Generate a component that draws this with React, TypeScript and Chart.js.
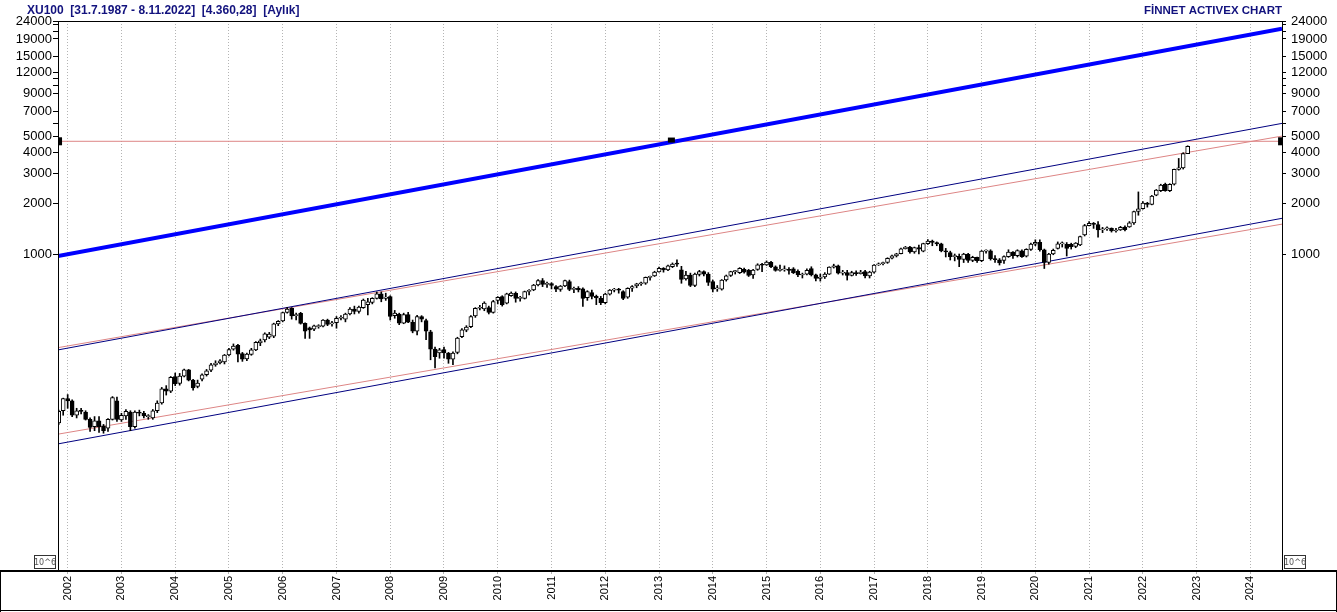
import React, { useEffect, useRef } from "react";
import { Chart, registerables } from "chart.js";

Chart.register(...registerables);

// ---------------- data (monthly XU100 candles, Nov 2001 .. Nov 2022) ----------------
const firstMonth = { year: 2001, month: 11 };

const open = [
  99, 117,
  138, 134, 110, 117, 115, 104, 94, 102, 95, 92, 104, 134,
  103, 109, 115, 94, 114, 113, 108, 106, 117, 130, 158, 153,
  187, 170, 188, 205, 178, 163, 180, 192, 204, 219, 225, 228,
  251, 272, 286, 256, 238, 253, 269, 296, 308, 320, 325, 384,
  400, 450, 476, 430, 444, 387, 364, 357, 370, 372, 405, 384,
  391, 415, 410, 440, 470, 455, 480, 500, 515, 545, 579, 545,
  558, 430, 440, 388, 436, 393, 348, 425, 402, 345, 272, 258,
  270, 258, 237, 260, 323, 352, 370, 428, 476, 472, 480, 450,
  530, 558, 510, 565, 584, 545, 545, 600, 611, 654, 695, 660,
  668, 640, 615, 645, 685, 615, 625, 620, 550, 589, 560, 545,
  514, 577, 610, 617, 597, 553, 626, 645, 665, 670, 727, 741,
  782, 822, 803, 840, 875, 805, 710, 750, 650, 755, 786, 760,
  685, 620, 617, 701, 745, 786, 774, 811, 800, 750, 811, 860,
  860, 893, 840, 800, 805, 808, 815, 790, 750, 760, 820, 752,
  715, 730, 760, 835, 850, 770, 775, 745, 775, 765, 786, 740,
  781, 860, 875, 890, 945, 975, 1004, 1075, 1100, 1029, 1093, 1040,
  1153, 1195, 1170, 1150, 1043, 1020, 965, 970, 929, 995, 915, 954,
  913, 1040, 1043, 940, 925, 915, 965, 1026, 976, 1045, 970, 1066,
  1144, 1175, 1060, 890, 1000, 1081, 1150, 1140, 1140, 1110, 1131, 1297,
  1476, 1520, 1495, 1390, 1410, 1420, 1370, 1390, 1445, 1450, 1530, 1790,
  1858, 2010, 1975, 2240, 2380, 2600, 2380, 2600, 3186, 3250, 3950,
];

const high = [
  118, 139,
  146, 136, 121, 121, 117, 106, 108, 108, 97, 105, 142, 141,
  113, 119, 117, 117, 118, 116, 111, 119, 134, 161, 165, 187,
  196, 195, 207, 206, 180, 178, 194, 206, 224, 232, 236, 253,
  275, 292, 290, 260, 258, 275, 302, 312, 340, 342, 388, 402,
  452, 482, 480, 445, 450, 390, 368, 378, 380, 408, 410, 398,
  425, 430, 445, 480, 490, 490, 540, 545, 550, 595, 595, 585,
  565, 462, 445, 445, 450, 405, 432, 430, 410, 352, 280, 275,
  280, 260, 262, 320, 360, 375, 430, 480, 495, 520, 490, 530,
  558, 565, 585, 595, 595, 560, 602, 615, 660, 705, 715, 680,
  675, 650, 650, 700, 700, 635, 640, 630, 605, 610, 570, 560,
  585, 615, 625, 625, 605, 630, 650, 670, 680, 730, 740, 790,
  835, 830, 860, 885, 925, 845, 790, 770, 770, 800, 795, 775,
  700, 650, 705, 750, 790, 800, 830, 825, 810, 810, 875, 880,
  910, 905, 850, 860, 850, 830, 830, 805, 770, 815, 840, 760,
  760, 775, 840, 870, 860, 800, 800, 790, 795, 800, 800, 790,
  865, 885, 895, 950, 985, 1010, 1085, 1110, 1110, 1100, 1130, 1160,
  1220, 1210, 1180, 1160, 1080, 1040, 1000, 1000, 1010, 1010, 970, 960,
  1050, 1060, 1060, 980, 940, 975, 1060, 1035, 1060, 1060, 1075, 1160,
  1215, 1215, 1070, 1010, 1070, 1180, 1180, 1170, 1160, 1170, 1280, 1500,
  1560, 1540, 1560, 1440, 1450, 1430, 1420, 1460, 1470, 1560, 1800, 2340,
  2050, 2030, 2230, 2420, 2600, 2640, 2620, 3200, 3700, 4000, 4400,
];

const low = [
  97, 110,
  121, 108, 106, 112, 103, 88, 89, 87, 86, 88, 103, 101,
  101, 104, 89, 92, 109, 106, 104, 104, 114, 128, 145, 150,
  165, 166, 186, 176, 155, 160, 176, 188, 200, 215, 222, 222,
  248, 268, 228, 230, 232, 250, 266, 285, 300, 314, 318, 375,
  395, 445, 410, 405, 383, 315, 315, 350, 362, 368, 375, 372,
  362, 405, 395, 435, 440, 445, 475, 434, 505, 540, 520, 530,
  405, 415, 380, 385, 390, 340, 330, 395, 310, 235, 210, 240,
  240, 224, 220, 255, 318, 345, 365, 420, 465, 460, 440, 445,
  505, 490, 505, 560, 517, 525, 540, 571, 605, 645, 640, 634,
  620, 597, 600, 640, 605, 590, 595, 488, 530, 540, 500, 500,
  505, 570, 595, 585, 535, 545, 600, 630, 650, 660, 700, 735,
  780, 780, 795, 830, 845, 670, 700, 640, 640, 740, 740, 650,
  595, 600, 610, 690, 735, 760, 765, 770, 735, 717, 800, 786,
  855, 830, 790, 790, 790, 760, 765, 734, 720, 750, 740, 691,
  690, 715, 755, 825, 760, 750, 700, 740, 745, 760, 720, 720,
  770, 855, 860, 880, 935, 960, 1000, 1070, 1010, 1010, 1000, 1030,
  1140, 1120, 1120, 1030, 960, 921, 910, 841, 890, 890, 900, 890,
  900, 1010, 920, 890, 860, 880, 955, 940, 960, 955, 960, 1050,
  1120, 1040, 820, 870, 990, 1070, 1100, 973, 1070, 1090, 1120, 1280,
  1470, 1420, 1260, 1340, 1380, 1350, 1350, 1380, 1370, 1440, 1500, 1700,
  1850, 1900, 1960, 2220, 2350, 2360, 2350, 2570, 3150, 3200, 3950,
];

const close = [
  116, 138,
  134, 110, 117, 116, 104, 93, 102, 94, 89, 104, 140, 104,
  110, 116, 94, 115, 113, 109, 108.5, 117, 130, 158, 153, 185,
  169, 188, 205, 178, 160, 171, 191, 202, 219, 225, 232, 251,
  270, 284, 254, 237, 254, 269, 298, 305, 335, 334, 384, 398,
  448, 470, 428, 432, 387, 348, 354, 374, 372, 405, 382, 390,
  415, 420, 440, 471, 455, 484, 533, 520, 545, 579, 540, 555,
  425, 445, 388, 436, 393, 348, 425, 410, 348, 272, 245, 269,
  258, 237, 258, 316, 354, 368, 425, 476, 482, 510, 450, 521,
  552, 500, 579, 585, 545, 548, 597, 605, 654, 695, 660, 668,
  650, 617, 645, 694, 615, 625, 612, 545, 597, 560, 548, 514,
  577, 611, 617, 610, 545, 626, 640, 665, 675, 727, 735, 782,
  822, 803, 850, 872, 870, 706, 750, 650, 761, 786, 760, 678,
  619, 630, 701, 741, 786, 790, 822, 780, 745, 803, 862, 857,
  895, 840, 800, 805, 808, 800, 775, 750, 755, 800, 752, 717,
  730, 760, 835, 850, 770, 772, 745, 775, 765, 780, 740, 781,
  860, 875, 889, 943, 975, 1004, 1075, 1100, 1029, 1093, 1068, 1153,
  1195, 1170, 1149, 1043, 1029, 965, 970, 929, 999, 915, 954, 913,
  1040, 1043, 938, 925, 885, 965, 1026, 976, 1048, 965, 1066, 1144,
  1175, 1060, 890, 1000, 1050, 1150, 1160, 1080, 1105, 1160, 1268, 1476,
  1520, 1500, 1390, 1410, 1420, 1370, 1390, 1440, 1395, 1530, 1790, 1858,
  2010, 1975, 2210, 2400, 2570, 2380, 2600, 3186, 3250, 3950, 4360.28,
];

const yearTicks = [
  2002, 2003, 2004, 2005, 2006, 2007, 2008, 2009, 2010, 2011, 2012, 2013,
  2014, 2015, 2016, 2017, 2018, 2019, 2020, 2021, 2022, 2023, 2024,
];
const yLabelTicks = [1000, 2000, 3000, 4000, 5000, 7000, 9000, 12000, 15000, 19000, 24000];
const yMinorTicks = [6000, 10000, 11000, 21000, 23000];

const xRange = [2001.82, 2024.588];
const yRange = [13.04, 24290];

// trend lines: value at left edge, value at right edge
const thickTrend = [973, 21870];
const upperNavy = [269, 5980];
const upperRed = [277.5, 5024];
const lowerNavy = [74.3, 1630];
const lowerRed = [84.9, 1505];
const resistance = 4680;
const edgeMarkerX = [2001.858, 2024.552];
const crossMarker = [2013.23, 4760];

const titleText = "XU100  [31.7.1987 - 8.11.2022]  [4.360,28]  [Aylık]";
const brandText = "FİNNET ACTIVEX CHART";
const scaleNote = "10^6";

// ---------------- decorations ----------------
const framePlugin = {
  id: "frameDecor",
  afterDraw(chart: any) {
    const { ctx, chartArea: a, width, height } = chart;
    ctx.save();
    ctx.fillStyle = "#000";
    // plot frame (left, right, top)
    ctx.fillRect(Math.round(a.left), Math.round(a.top), 1, a.bottom - a.top);
    ctx.fillRect(Math.round(a.right), Math.round(a.top), 1, a.bottom - a.top);
    ctx.fillRect(Math.round(a.left), Math.round(a.top), a.right - a.left + 1, 1);
    // heavy axis line across full width
    ctx.fillRect(0, Math.round(a.bottom) - 1, width, 2);
    // outer frame of lower panel
    ctx.fillRect(0, Math.round(a.bottom), 1, height - a.bottom);
    ctx.fillRect(0, height - 2, width, 1);
    ctx.fillRect(width - 1, Math.round(a.bottom), 1, height - a.bottom);

    // title texts
    ctx.fillStyle = "#12127e";
    ctx.textBaseline = "alphabetic";
    ctx.font = 'bold 12px "Liberation Sans", Arial, sans-serif';
    ctx.textAlign = "left";
    ctx.fillText(titleText, 27, 14);
    ctx.font = 'bold 11.5px "Liberation Sans", Arial, sans-serif';
    ctx.textAlign = "right";
    ctx.fillText(brandText, Math.round(a.right), 14);

    // 10^6 boxes
    const boxes = [a.left - 24, a.right + 2];
    ctx.font = '8px "DejaVu Sans", sans-serif';
    ctx.textAlign = "center";
    ctx.textBaseline = "middle";
    boxes.forEach((bx) => {
      ctx.strokeStyle = "#333";
      ctx.lineWidth = 1;
      ctx.strokeRect(Math.round(bx) + 0.5, Math.round(a.bottom) - 15.5, 21, 13);
      ctx.fillStyle = "#555";
      ctx.fillText(scaleNote, Math.round(bx) + 11, Math.round(a.bottom) - 8.5);
    });
    ctx.restore();
  },
};

export default function App() {
  const ref = useRef<HTMLCanvasElement>(null);

  useEffect(() => {
    const canvas = ref.current;
    if (!canvas) return;

    const monthX = close.map((_, i) => firstMonth.year + (firstMonth.month - 1 + i) / 12);
    const wick = monthX.map((x, i) => ({ x, y: [low[i], high[i]] }));
    const body = monthX.map((x, i) => ({ x, y: [open[i], close[i]] }));
    const bodyFill = close.map((c, i) => (c >= open[i] ? "#ffffff" : "#000000"));
    const seg = (v: number[]) => [
      { x: xRange[0], y: v[0] },
      { x: xRange[1], y: v[1] },
    ];
    const lineDs = (label: string, data: any[], color: string, width: number, order: number) => ({
      type: "line",
      label,
      data,
      borderColor: color,
      backgroundColor: color,
      borderWidth: width,
      pointRadius: 0,
      pointHoverRadius: 0,
      tension: 0,
      fill: false,
      order,
    });
    const allYTicks = [...yLabelTicks, ...yMinorTicks].sort((p, q) => p - q);

    const yCommon = (position: string, w: number, tickLen: number, pad: number) => ({
      type: "logarithmic",
      position,
      min: yRange[0],
      max: yRange[1],
      afterBuildTicks: (s: any) => {
        s.ticks = allYTicks.map((v) => ({ value: v }));
      },
      afterFit: (s: any) => {
        s.width = w;
      },
      ticks: {
        autoSkip: false,
        color: "#000",
        padding: pad,
        font: { family: "'Liberation Sans', Arial, sans-serif", size: 13 },
        callback: (v: any) => (yLabelTicks.includes(Number(v)) ? String(v) : ""),
      },
      grid: { drawOnChartArea: false, drawTicks: true, tickLength: tickLen, color: "#000" },
      border: { display: false },
    });

    const chart = new Chart(canvas, {
      type: "bar",
      data: {
        datasets: [
          {
            type: "bar",
            label: "body",
            data: body,
            backgroundColor: bodyFill,
            borderColor: "#000",
            borderWidth: 1,
            borderSkipped: false,
            barThickness: 4,
            grouped: false,
            minBarLength: 1,
            order: 1,
          },
          {
            type: "bar",
            label: "wick",
            data: wick,
            backgroundColor: "#000",
            borderWidth: 0,
            barThickness: 1,
            grouped: false,
            order: 2,
          },
          lineDs("thick", seg(thickTrend), "#0000ff", 4, 4),
          lineDs("upperNavy", seg(upperNavy), "#000080", 1, 5),
          lineDs("upperRed", seg(upperRed), "#dd8585", 1, 6),
          lineDs("lowerNavy", seg(lowerNavy), "#000080", 1, 5),
          lineDs("lowerRed", seg(lowerRed), "#dd8585", 1, 6),
          lineDs("resistance", seg([resistance, resistance]), "#dd8585", 1, 6),
          {
            type: "line",
            label: "edgeMarkers",
            data: edgeMarkerX.map((x) => ({ x, y: resistance })),
            showLine: false,
            pointStyle: "line",
            pointRotation: 90,
            pointRadius: 4,
            pointHoverRadius: 4,
            pointBorderWidth: 4,
            pointBorderColor: "#000",
            pointBackgroundColor: "#000",
            order: 0,
          },
          {
            type: "line",
            label: "crossMarker",
            data: [{ x: crossMarker[0], y: crossMarker[1] }],
            showLine: false,
            pointStyle: "line",
            pointRotation: 0,
            pointRadius: 3.5,
            pointHoverRadius: 3.5,
            pointBorderWidth: 5,
            pointBorderColor: "#000",
            pointBackgroundColor: "#000",
            order: 0,
          },
        ] as any,
      },
      options: {
        responsive: false,
        animation: false,
        events: [],
        layout: { padding: { top: 21, left: 0, right: 0, bottom: 0 } },
        plugins: {
          legend: { display: false },
          tooltip: { enabled: false },
          title: { display: false },
        },
        scales: {
          x: {
            type: "linear",
            min: xRange[0],
            max: xRange[1],
            offset: false,
            afterBuildTicks: (s: any) => {
              s.ticks = yearTicks.map((v) => ({ value: v }));
            },
            afterFit: (s: any) => {
              s.height = 41;
            },
            ticks: {
              autoSkip: false,
              minRotation: 90,
              maxRotation: 90,
              padding: 2,
              color: "#000",
              font: { family: "'Liberation Sans', Arial, sans-serif", size: 11 },
              callback: (v: any) => String(v),
            },
            grid: { offset: false, color: "#b4b4b4", lineWidth: 1, drawTicks: true, tickLength: 3 },
            border: { display: false, dash: [1, 2] },
          },
          y: yCommon("left", 58, 5, 1),
          y2: yCommon("right", 55, 4, 5),
        } as any,
      },
      plugins: [framePlugin],
    } as any);

    return () => chart.destroy();
  }, []);

  return (
    <div style={{ position: "fixed", left: 0, top: 0, width: 1337, height: 612, background: "#fff" }}>
      <canvas ref={ref} width={1337} height={612} style={{ display: "block" }} />
    </div>
  );
}
